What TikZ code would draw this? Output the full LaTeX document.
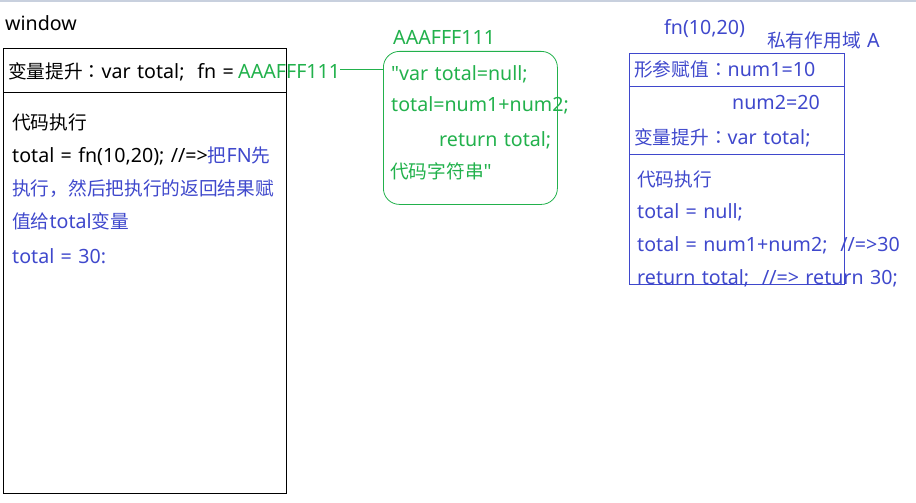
\documentclass[tikz,border=0pt]{standalone}
\usepackage{fontspec}
\setmainfont{Noto Sans}[Scale=1.05, WordSpace=1.25]
\newfontfamily\cjkfont{Noto Sans CJK SC}
\newfontfamily\cjkpunct{Noto Sans CJK TC}
\newcommand{\hanzi}[1]{{\cjkfont #1}}
\newcommand{\fcolon}{{\cjkpunct ：}}
\usepackage{xcolor}
\usepackage{tikz}
\usetikzlibrary{positioning,calc}
\definecolor{heapgreen}{RGB}{34,177,76}
\definecolor{scopeblue}{RGB}{63,72,204}
\definecolor{topgray}{RGB}{200,208,222}

\begin{document}
\begin{tikzpicture}[
    codetext/.style={anchor=base west, inner sep=0pt, font=\fontsize{18.7}{22}\selectfont},
    stackbox/.style={rectangle, draw=black, line width=1pt, anchor=north west, inner sep=0pt},
    heapbox/.style={rectangle, draw=heapgreen, line width=0.8pt, rounded corners=16pt, anchor=north west, inner sep=0pt},
    scopebox/.style={rectangle, draw=scopeblue, line width=0.8pt, anchor=north west, inner sep=0pt},
    link/.style={draw=heapgreen, line width=0.8pt}
]
    \useasboundingbox (0,0) rectangle (916pt,-503pt);
    \fill[topgray] (0,0) rectangle (916pt,-2.5pt);

    % Global window
    \node[codetext] (wintitle) at (5pt,-31pt) {window};
    \node[stackbox, minimum width=283pt, minimum height=445pt] (window) at (3pt,-48pt) {};
    \coordinate (winsplit) at (3pt,-93pt);
    \draw[line width=1pt] (winsplit) -- (winsplit -| window.east);
    \node[codetext] (hoist) at (8pt,-78pt) {\hanzi{变量提升}\fcolon var total;\ \ fn =};
    \node[codetext, heapgreen] (addr) at ([xshift=4pt]hoist.base east) {AAAFFF111};
    \node[codetext] (run) at (12pt,-129pt) {\hanzi{代码执行}};
    \node[codetext] (call) at (12pt,-162pt) {total = fn(10,20); //=>\textcolor{scopeblue}{\hanzi{把}FN\hanzi{先}}};
    \node[codetext, scopeblue] (note1) at (12pt,-195pt) {\hanzi{执行，然后把执行的返回结果赋}};
    \node[codetext, scopeblue] (note2) at (12pt,-228pt) {\hanzi{值给}total\hanzi{变量}};
    \node[codetext, scopeblue] (result) at (12pt,-263pt) {total = 30:};

    % Heap memory
    \node[codetext, heapgreen] (heaptitle) at (393pt,-45pt) {AAAFFF111};
    \node[heapbox, minimum width=174pt, minimum height=153pt] (heap) at (383pt,-51pt) {};
    \node[codetext, heapgreen] (body1) at (391pt,-81pt) {\textquotedbl var total=null;};
    \node[codetext, heapgreen] (body2) at (391pt,-111pt) {total=num1+num2;};
    \node[codetext, heapgreen] (body3) at (439pt,-146pt) {return total;};
    \node[codetext, heapgreen] (body4) at (390pt,-178pt) {\hanzi{代码字符串}\textquotedbl};

    % Private scope
    \node[codetext, scopeblue] (calltitle) at (664pt,-35pt) {fn(10,20)};
    \node[codetext, scopeblue] (scopetitle) at (767pt,-48pt) {\hanzi{私有作用域} A};
    \node[scopebox, minimum width=215pt, minimum height=231pt] (scope) at (629pt,-53pt) {};
    \coordinate (split1) at (629pt,-86pt);
    \coordinate (split2) at (629pt,-154pt);
    \draw[scopeblue, line width=0.8pt] (split1) -- (split1 -| scope.east);
    \draw[scopeblue, line width=0.8pt] (split2) -- (split2 -| scope.east);
    \node[codetext, scopeblue] (param1) at (634pt,-77pt) {\hanzi{形参赋值}\fcolon num1=10};
    \node[codetext, scopeblue] (param2) at (732pt,-110pt) {num2=20};
    \node[codetext, scopeblue] (shoist) at (634pt,-144pt) {\hanzi{变量提升}\fcolon var total;};
    \node[codetext, scopeblue] (srun) at (637pt,-186pt) {\hanzi{代码执行}};
    \node[codetext, scopeblue] (line1) at (637pt,-218pt) {total = null;};
    \node[codetext, scopeblue] (line2) at (637pt,-251pt) {total = num1+num2;\ \ //=>30};
    \node[codetext, scopeblue] (line3) at (637pt,-284pt) {return total;\ \ //=> return 30;};

    % Link
    \draw[link] ([yshift=2pt]addr.east) -- ([yshift=2pt]addr.east -| heap.west);
\end{tikzpicture}
\end{document}
